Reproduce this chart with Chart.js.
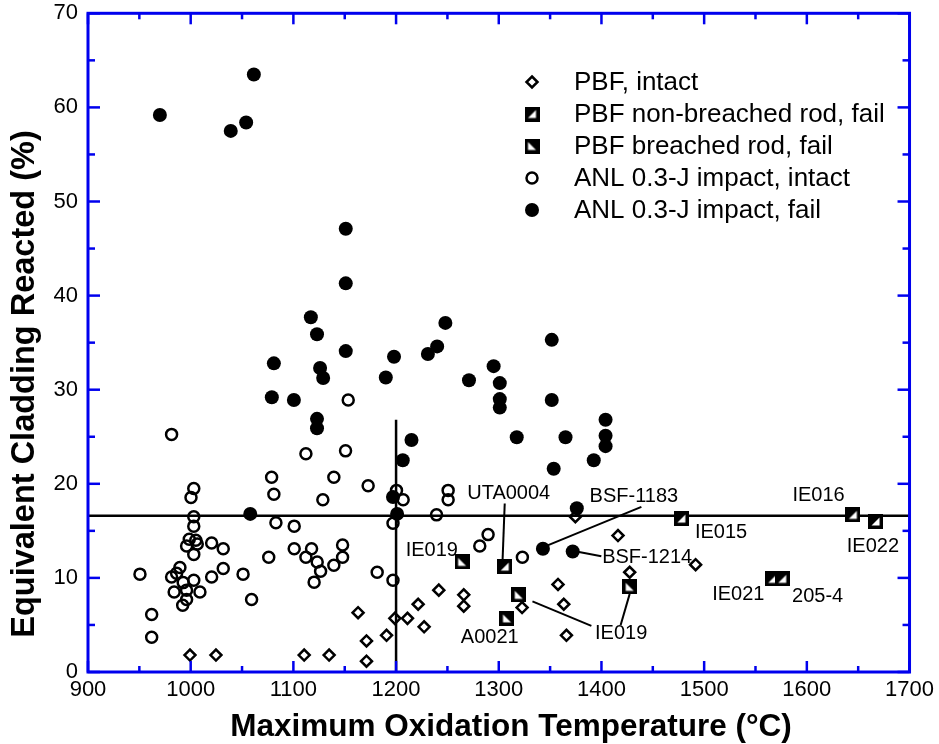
<!DOCTYPE html>
<html><head><meta charset="utf-8">
<script src="https://cdn.jsdelivr.net/npm/chart.js@4/dist/chart.umd.min.js"></script>
<style>html,body{margin:0;padding:0;background:#fff}#wrap{width:939px;height:744px}</style>
</head><body><div id="wrap"><canvas id="c" width="939" height="744"></canvas></div>
<script>
// ---------- data ----------
const xTickValues = [900,1000,1100,1200,1300,1400,1500,1600,1700];
const xMinorValues = [950,1050,1150,1250,1350,1450,1550,1650];
const yTickValues = [0,10,20,30,40,50,60,70];
const yMinorValues = [5,15,25,35,45,55,65];

const pbfIntactT = [999.3,1024.6,1110.5,1134.8,1171.2,1171.2,1163,1190.7,1198.8,1211.1,1221.5,1227.3,1241.6,1265.9,1265.9,1322.7,1357.7,1363.3,1365.9,1374.6,1416.1,1427.5,1491.7];
const pbfIntactV = [1.8,1.8,1.8,1.8,1.15,3.3,6.3,3.9,5.7,5.7,7.2,4.8,8.7,8.2,7.0,6.85,9.3,7.2,3.9,16.5,14.5,10.6,11.4];

const pbfNonBreachedT = [1305.8,1477.8,1644.8,1666.9,1566.3,1576];
const pbfNonBreachedV = [11.2,16.3,16.7,16.0,9.9,9.9];

const pbfBreachedT = [1264.3,1308,1319.5,1427.5];
const pbfBreachedV = [11.7,5.7,8.2,9.05];

const anlIntactT = [981.4,1003,1000.3,1003,1003,998.6,1005,996,1006.4,1003,1020.4,1031.7,1031.7,1020.4,989.5,986.3,981.4,1003,992.7,983.9,996,1009,996,992.2,950.6,962,962,1051,1059.3,1078.8,1081,1083,1076,1153.4,1112.2,1150.8,1139.4,1128.7,1172.8,1200.4,1206.9,1250.7,1250.7,1239.4,1197,1100.8,1100.8,1117.7,1147.9,1147.9,1112.2,1123.2,1126.5,1139.4,1181.6,1197,1120.2,1289.6,1281.5,1323];
const anlIntactV = [25.25,19.5,18.55,16.5,15.5,14.1,14.0,13.4,13.6,12.5,13.7,13.1,11.0,10.1,11.1,10.5,10.1,9.75,9.5,8.5,8.7,8.5,7.7,7.1,10.4,6.1,3.7,10.4,7.7,20.7,18.9,15.85,12.2,28.9,23.2,23.5,20.7,18.3,19.8,19.3,18.3,19.3,18.3,16.7,15.8,15.5,13.1,13.1,13.5,12.2,12.2,11.7,10.7,11.35,10.6,9.75,9.55,14.6,13.4,12.2];

const anlFailT = [970,1039,1054,1061.5,1058,1079,1100.5,1081,1117,1123,1126,1129,1123,1123,1151,1151,1151,1190,1198,1231,1240,1248,1215,1206.5,1197,1201,1271,1295,1301,1301,1301,1351.6,1351.6,1317.5,1365,1404,1404,1404,1392.5,1353.5,1376,1343,1372];
const anlFailV = [59.2,57.5,58.4,63.5,16.8,29.2,28.9,32.8,37.7,35.9,32.3,31.25,26.9,25.9,47.1,41.3,34.1,31.3,33.5,33.8,34.6,37.1,24.65,22.5,18.6,16.8,31.0,32.5,30.7,29.0,28.1,35.3,28.9,24.95,24.95,26.8,25.1,24.0,22.5,21.6,17.4,13.1,12.8];

const hLineT = [900,1700];
const hLineV = [16.6,16.6];
const vLineT = [1200,1200];
const vLineV = [0,26.8];

const legendLabels = ['PBF, intact','PBF non-breached rod, fail','PBF breached rod, fail','ANL 0.3-J impact, intact','ANL 0.3-J impact, fail'];

const annoText = ['UTA0004','BSF-1183','BSF-1214','IE019','A0021','IE019','IE015','IE016','IE022','IE021','205-4'];
const annoT = [1309.7,1431.6,1444.5,1419.2,1291.2,1234.8,1516.5,1611.4,1664.3,1533.3,1610.5];
const annoV = [19.0,18.6,12.2,4.1,3.7,12.95,14.8,18.8,13.3,8.2,8.0];

const leaderT1 = [1305.8,1438.9,1375.6,1332.8,1427.5];
const leaderV1 = [17.9,17.55,12.8,7.5,8.3];
const leaderT2 = [1303.6,1346.4,1399.9,1390.2,1418.7];
const leaderV2 = [11.6,13.4,12.3,4.9,5.0];

const xTitle = 'Maximum Oxidation Temperature (°C)';
const yTitle = 'Equivalent Cladding Reacted (%)';

// ---------- helpers ----------
const zip = (a,b) => a.map((v,i) => ({x:v, y:b[i]}));
const BLUE = '#0000ee';
const FONT = '"Liberation Sans", Arial, Helvetica, sans-serif';

function squareMarker(breached){
  const s = 15, c = document.createElement('canvas');
  c.width = s; c.height = s;
  const g = c.getContext('2d');
  g.fillStyle = '#000';
  g.fillRect(0,0,s,s);
  g.fillStyle = '#fff';
  g.beginPath();
  if (breached){ g.moveTo(3.5,3.5); g.lineTo(3.5,11.5); g.lineTo(11.5,11.5); }
  else { g.moveTo(11.5,3.5); g.lineTo(11.5,11.5); g.lineTo(3.5,11.5); }
  g.closePath(); g.fill();
  return c;
}
const nbImg = squareMarker(false);
const brImg = squareMarker(true);

function drawMarker(ctx, kind, x, y){
  ctx.save();
  ctx.strokeStyle = '#000'; ctx.fillStyle = '#000'; ctx.lineWidth = 2.5;
  if (kind === 0){
    const r = 5.5;
    ctx.beginPath(); ctx.moveTo(x, y-r); ctx.lineTo(x+r, y); ctx.lineTo(x, y+r); ctx.lineTo(x-r, y); ctx.closePath(); ctx.stroke();
  } else if (kind === 1){ ctx.drawImage(nbImg, x-7.5, y-7.5); }
  else if (kind === 2){ ctx.drawImage(brImg, x-7.5, y-7.5); }
  else if (kind === 3){ ctx.beginPath(); ctx.arc(x, y, 5.5, 0, Math.PI*2); ctx.stroke(); }
  else { ctx.beginPath(); ctx.arc(x, y, 7, 0, Math.PI*2); ctx.fill(); }
  ctx.restore();
}

const decor = {
  id: 'decor',
  afterDatasetsDraw(chart){
    const {ctx, scales:{x, y}} = chart;
    ctx.save();
    ctx.strokeStyle = '#000'; ctx.lineWidth = 2;
    for (let i = 0; i < leaderT1.length; i++){
      ctx.beginPath();
      ctx.moveTo(x.getPixelForValue(leaderT1[i]), y.getPixelForValue(leaderV1[i]));
      ctx.lineTo(x.getPixelForValue(leaderT2[i]), y.getPixelForValue(leaderV2[i]));
      ctx.stroke();
    }
    ctx.fillStyle = '#000';
    ctx.font = '20px ' + FONT;
    ctx.textAlign = 'center'; ctx.textBaseline = 'middle';
    annoText.forEach((t, i) => ctx.fillText(t, x.getPixelForValue(annoT[i]), y.getPixelForValue(annoV[i])));
    ctx.restore();
  },
  afterDraw(chart){
    const {ctx, chartArea:a, scales:{x, y}} = chart;
    ctx.save();
    // frame
    ctx.strokeStyle = BLUE; ctx.lineWidth = 3;
    ctx.strokeRect(a.left, a.top, a.right - a.left, a.bottom - a.top);
    // ticks (inward, all sides)
    ctx.lineWidth = 2.5;
    const tick = (vals, len) => {
      vals.forEach(v => {
        const px = x.getPixelForValue(v);
        ctx.beginPath(); ctx.moveTo(px, a.bottom); ctx.lineTo(px, a.bottom - len); ctx.stroke();
        ctx.beginPath(); ctx.moveTo(px, a.top); ctx.lineTo(px, a.top + len); ctx.stroke();
      });
    };
    const ytick = (vals, len) => {
      vals.forEach(v => {
        const py = y.getPixelForValue(v);
        ctx.beginPath(); ctx.moveTo(a.left, py); ctx.lineTo(a.left + len, py); ctx.stroke();
        ctx.beginPath(); ctx.moveTo(a.right, py); ctx.lineTo(a.right - len, py); ctx.stroke();
      });
    };
    tick(xTickValues, 11); tick(xMinorValues, 6);
    ytick(yTickValues, 12); ytick(yMinorValues, 7);
    // titles
    ctx.fillStyle = '#000';
    ctx.textAlign = 'center'; ctx.textBaseline = 'middle';
    ctx.font = 'bold 31.5px ' + FONT;
    ctx.fillText(xTitle, 511, 727);
    ctx.font = 'bold 32.5px ' + FONT;
    ctx.save(); ctx.translate(25, 384); ctx.rotate(-Math.PI/2); ctx.fillText(yTitle, 0, 0); ctx.restore();
    // legend
    ctx.font = '26px ' + FONT;
    ctx.textAlign = 'left';
    legendLabels.forEach((t, i) => {
      const ly = 82 + i*32;
      drawMarker(ctx, i, 532, ly);
      ctx.fillText(t, 574, ly + 1);
    });
    ctx.restore();
  }
};

new Chart(document.getElementById('c'), {
  type: 'scatter',
  data: {
    datasets: [
      {label: legendLabels[4], data: zip(anlFailT, anlFailV), pointStyle: 'circle', pointRadius: 7, backgroundColor: '#000', borderColor: '#000', borderWidth: 0, order: 1},
      {label: legendLabels[1], data: zip(pbfNonBreachedT, pbfNonBreachedV), pointStyle: nbImg, pointRadius: 7, order: 2},
      {label: legendLabels[2], data: zip(pbfBreachedT, pbfBreachedV), pointStyle: brImg, pointRadius: 7, order: 2},
      {label: legendLabels[3], data: zip(anlIntactT, anlIntactV), pointStyle: 'circle', pointRadius: 5.5, backgroundColor: 'rgba(0,0,0,0)', borderColor: '#000', borderWidth: 2.5, order: 3},
      {label: legendLabels[0], data: zip(pbfIntactT, pbfIntactV), pointStyle: 'rectRot', pointRadius: 5.5, backgroundColor: 'rgba(0,0,0,0)', borderColor: '#000', borderWidth: 2.5, order: 4},
      {label: 'h', data: zip(hLineT, hLineV), showLine: true, pointRadius: 0, borderColor: '#000', borderWidth: 2.5, order: 9},
      {label: 'v', data: zip(vLineT, vLineV), showLine: true, pointRadius: 0, borderColor: '#000', borderWidth: 2.5, order: 9}
    ]
  },
  options: {
    responsive: false,
    animation: false,
    layout: {padding: {left: 0, right: 29, top: 13, bottom: 0}},
    plugins: {legend: {display: false}, tooltip: {enabled: false}},
    scales: {
      x: {
        type: 'linear', min: 900, max: 1700,
        afterBuildTicks: s => { s.ticks = xTickValues.map(v => ({value: v})); },
        afterFit: s => { s.height = 72; },
        grid: {display: false, drawTicks: false},
        border: {display: false},
        ticks: {color: '#000', padding: 5, maxRotation: 0, font: {family: FONT, size: 22}, callback: v => String(v)}
      },
      y: {
        type: 'linear', min: 0, max: 70,
        afterBuildTicks: s => { s.ticks = yTickValues.map(v => ({value: v})); },
        afterFit: s => { s.width = 88; },
        grid: {display: false, drawTicks: false},
        border: {display: false},
        ticks: {color: '#000', padding: 10, font: {family: FONT, size: 22, lineHeight: 0.3}, callback: v => String(v)}
      }
    }
  },
  plugins: [decor]
});
</script>
</body></html>
